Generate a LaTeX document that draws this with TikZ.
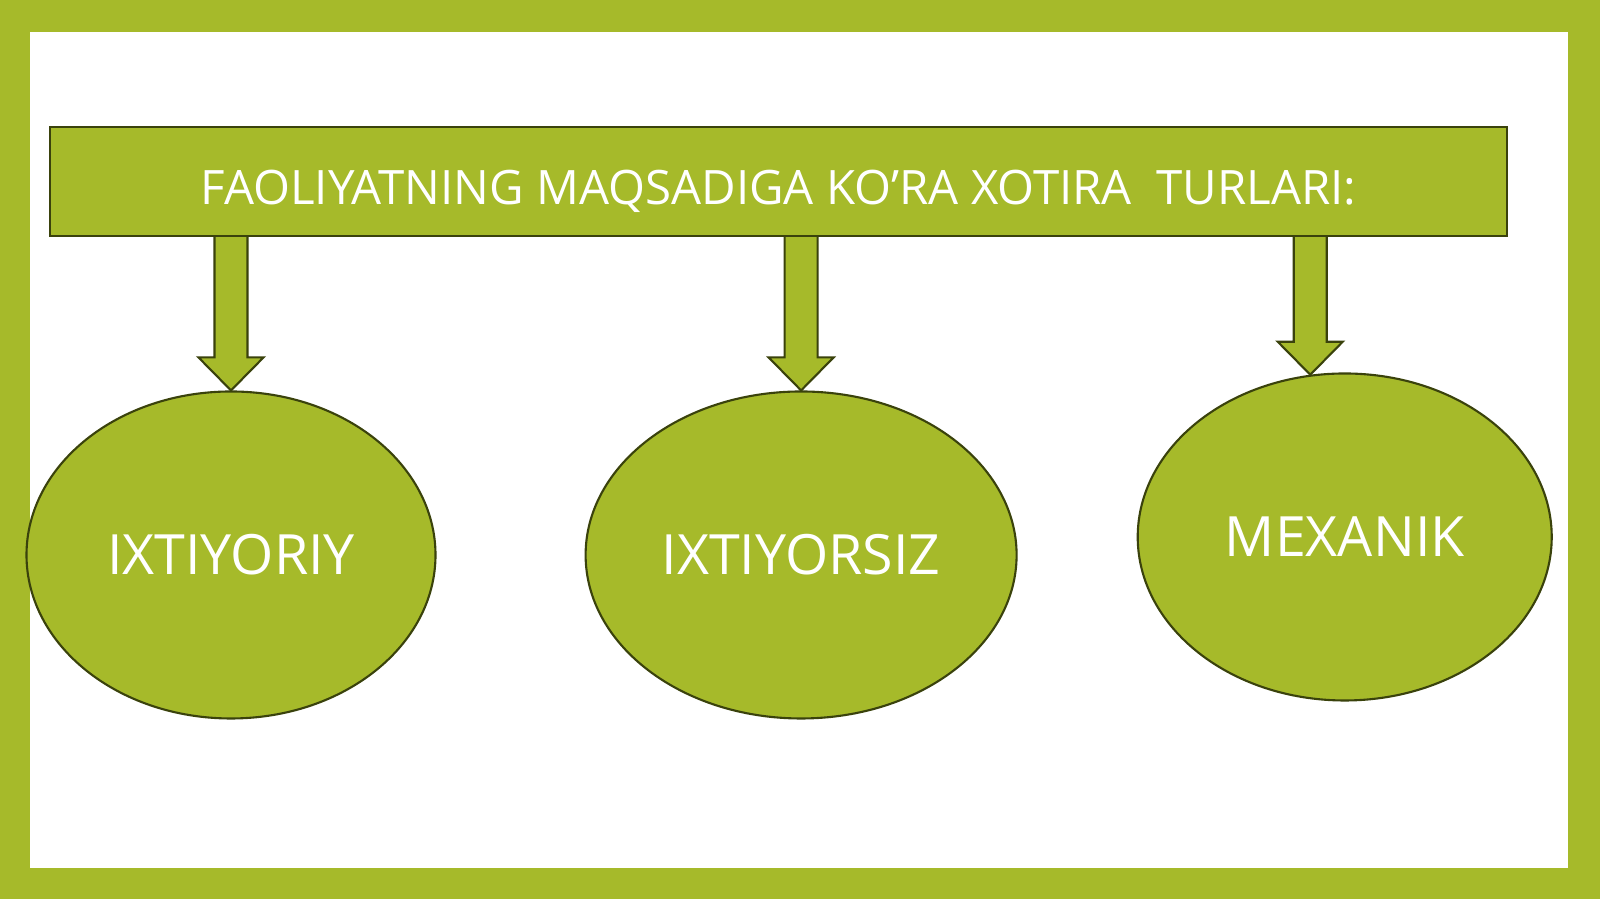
\documentclass[tikz,border=0pt]{standalone}
\usepackage{fontspec}
\setmainfont{Open Sans}
\usetikzlibrary{positioning, shapes.geometric}
\definecolor{leaf}{RGB}{166,186,42}
\definecolor{olive}{RGB}{58,66,12}

\begin{document}
\begin{tikzpicture}[
        titlebox/.style={rectangle, draw=olive, fill=leaf, line width=0.6pt, minimum width=14.57cm, minimum height=1.09cm, text height=13pt, text depth=0pt, text=white, font=\fontsize{13.5}{16}\selectfont},
        oval/.style={ellipse, draw=olive, fill=leaf, line width=0.6pt, minimum height=3.27cm, text=white, font=\fontsize{15.8}{19}\selectfont},
        blockarrow/.style={draw=olive, fill=leaf, line width=0.6pt, line join=miter}
    ]
        % frame
        \fill[leaf] (0,0) rectangle (16,8.99);
        \fill[white] (0.30,0.31) rectangle (15.68,8.67);

        \node[titlebox] (title) at (7.785,7.175) {FAOLIYATNING MAQSADIGA KO’RA XOTIRA\ \ TURLARI:};

        \node[oval, minimum width=4.09cm] (vol) at (2.31,3.44) {IXTIYORIY};
        \node[oval, minimum width=4.31cm, right=1.48cm of vol] (invol) {IXTIYORSIZ};
        \node[oval, minimum width=4.14cm, right=1.19cm of invol, yshift=1.8mm] (mech) {MEXANIK};

        % block arrows
        \foreach \n/\a in {vol/90, invol/90, mech/102} {
            \draw[blockarrow] ([xshift=-1.65mm]title.south -| \n.\a) -- ([xshift=-1.65mm,yshift=3.3mm]\n.\a)
                -- ([xshift=-3.25mm,yshift=3.3mm]\n.\a) -- (\n.\a) -- ([xshift=3.25mm,yshift=3.3mm]\n.\a)
                -- ([xshift=1.65mm,yshift=3.3mm]\n.\a) -- ([xshift=1.65mm]title.south -| \n.\a);
        }
    \end{tikzpicture}
\end{document}
